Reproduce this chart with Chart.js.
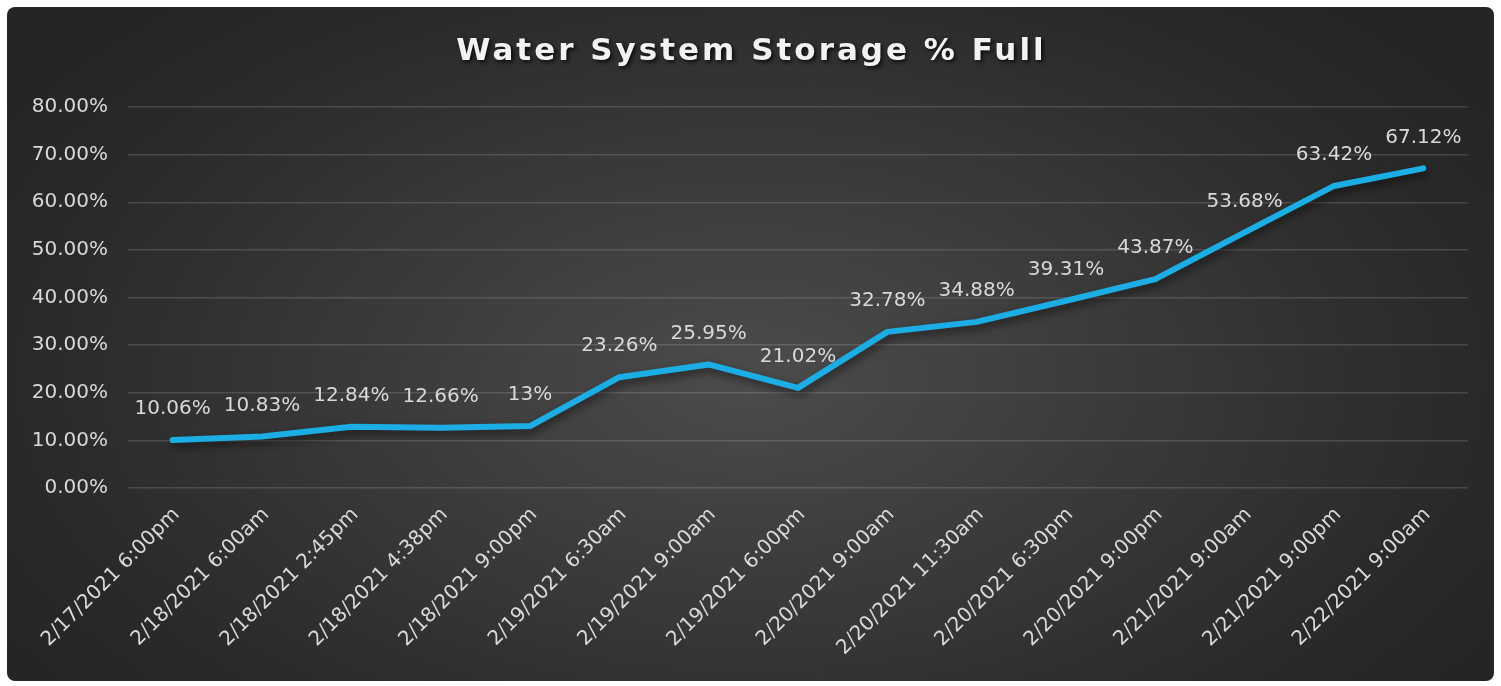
<!DOCTYPE html>
<html>
<head>
<meta charset="utf-8">
<script src="https://cdn.jsdelivr.net/npm/chart.js@4.4.1/dist/chart.umd.min.js"></script>
<style>
  html, body { margin: 0; padding: 0; background: #ffffff; }
  #frame {
    position: absolute;
    left: 7px; top: 7px;
    width: 1487px; height: 674px;
    border-radius: 8px;
    background: radial-gradient(ellipse 60% 75% at 50% 55%, #4c4c4c 0%, #393939 45%, #2a2a2a 80%, #252525 100%);
  }
</style>
</head>
<body>
<div id="frame"><canvas id="storageChart" width="1487" height="674"></canvas></div>
<script>
/* data */
const chartTitle = "Water System Storage % Full";

const readingTimes = [
    "2/17/2021 6:00pm",
    "2/18/2021 6:00am",
    "2/18/2021 2:45pm",
    "2/18/2021 4:38pm",
    "2/18/2021 9:00pm",
    "2/19/2021 6:30am",
    "2/19/2021 9:00am",
    "2/19/2021 6:00pm",
    "2/20/2021 9:00am",
    "2/20/2021 11:30am",
    "2/20/2021 6:30pm",
    "2/20/2021 9:00pm",
    "2/21/2021 9:00am",
    "2/21/2021 9:00pm",
    "2/22/2021 9:00am"
];

const storagePercent = [10.06, 10.83, 12.84, 12.66, 13, 23.26, 25.95, 21.02, 32.78, 34.88, 39.31, 43.87, 53.68, 63.42, 67.12];

const yTicks = [0, 10, 20, 30, 40, 50, 60, 70, 80];

/* plugins */
const lineShadow = {
    id: "lineShadow",
    beforeDatasetDraw(chart) {
        const ctx = chart.ctx;
        ctx.save();
        ctx.shadowColor = "rgba(0,0,0,0.55)";
        ctx.shadowBlur = 8;
        ctx.shadowOffsetX = 2;
        ctx.shadowOffsetY = 4;
    },
    afterDatasetDraw(chart) {
        chart.ctx.restore();
    }
};

const pointLabels = {
    id: "pointLabels",
    afterDatasetsDraw(chart) {
        const ctx = chart.ctx;
        const meta = chart.getDatasetMeta(0);
        ctx.save();
        ctx.font = "20px 'DejaVu Sans'";
        ctx.fillStyle = "#d9d9d9";
        ctx.textAlign = "center";
        ctx.textBaseline = "middle";
        meta.data.forEach((point, index) => {
            ctx.fillText(storagePercent[index] + "%", point.x, point.y - 31);
        });
        ctx.restore();
    }
};

const spacedTitle = {
    id: "spacedTitle",
    afterDraw(chart) {
        const ctx = chart.ctx;
        ctx.save();
        ctx.font = "bold 31px 'DejaVu Sans'";
        ctx.letterSpacing = "3px";
        ctx.fillStyle = "#f2f2f2";
        ctx.textAlign = "center";
        ctx.textBaseline = "middle";
        ctx.shadowColor = "rgba(0,0,0,0.8)";
        ctx.shadowBlur = 4;
        ctx.shadowOffsetX = 2;
        ctx.shadowOffsetY = 2;
        ctx.fillText(chartTitle, chart.width / 2 + 1, 45);
        ctx.restore();
    }
};

/* chart */
const storageChartCanvas = document.querySelector("#storageChart");

const storageChart = new Chart(storageChartCanvas, {
    type: "line",
    data: {
        labels: readingTimes,
        datasets: [
            {
                label: "Storage % Full",
                data: storagePercent,
                borderColor: "#1cade4",
                borderWidth: 6,
                borderCapStyle: "round",
                borderJoinStyle: "round",
                tension: 0,
                pointRadius: 0,
                fill: false
            }
        ]
    },
    options: {
        responsive: false,
        animation: false,
        layout: {
            padding: { top: 100, right: 26, bottom: 0, left: 0 }
        },
        plugins: {
            legend: { display: false },
            title: { display: false },
            tooltip: { enabled: false }
        },
        scales: {
            x: {
                offset: true,
                grid: { display: false, drawTicks: false },
                border: { display: false },
                ticks: {
                    color: "#d9d9d9",
                    font: { family: "'DejaVu Sans'", size: 20 },
                    minRotation: 45,
                    maxRotation: 45,
                    autoSkip: false,
                    padding: 15,
                    labelOffset: 4
                },
                afterFit(scale) {
                    scale.height = 193;
                }
            },
            y: {
                min: 0,
                max: 80,
                afterBuildTicks(scale) {
                    scale.ticks = yTicks.map(v => ({ value: v }));
                },
                grid: {
                    color: "rgba(255,255,255,0.14)",
                    lineWidth: 1.5,
                    drawTicks: false
                },
                border: { display: false },
                ticks: {
                    color: "#d9d9d9",
                    font: { family: "'DejaVu Sans'", size: 20 },
                    padding: 20,
                    callback: value => value.toFixed(2) + "%"
                },
                afterFit(scale) {
                    scale.width = 121;
                }
            }
        }
    },
    plugins: [lineShadow, pointLabels, spacedTitle]
});
</script>
</body>
</html>
